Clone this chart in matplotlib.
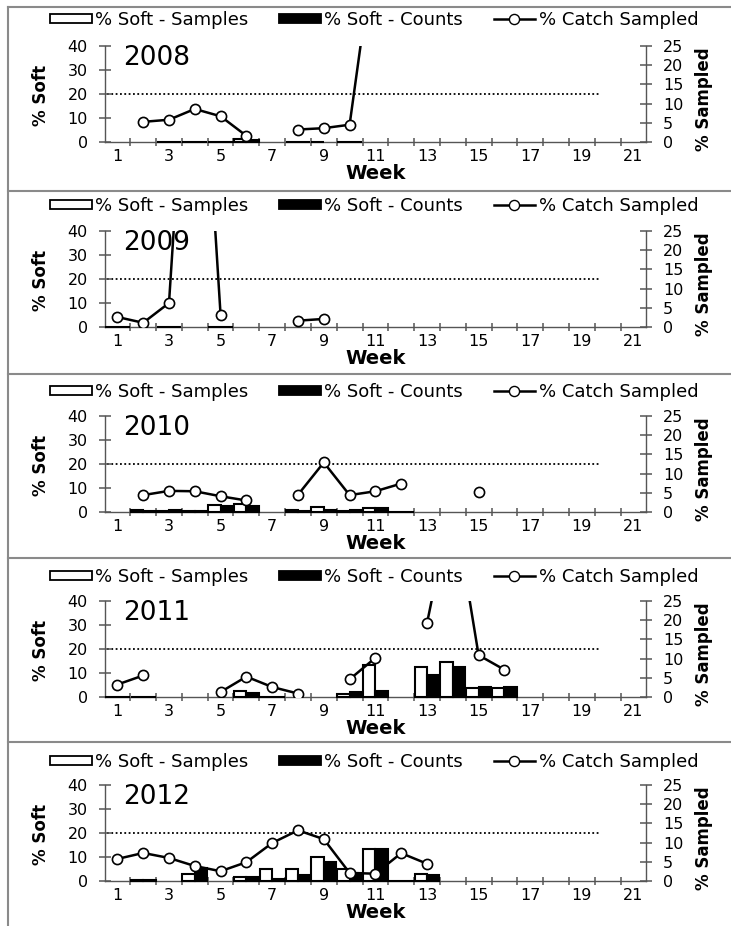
import numpy as np
import matplotlib
matplotlib.use('Agg')
import matplotlib.pyplot as plt
from matplotlib.patches import Patch
from matplotlib.lines import Line2D

plt.rcParams['font.family'] = ['DejaVu Sans']

n = np.nan
weeks = list(range(1, 22))
years = ['2008', '2009', '2010', '2011', '2012']
threshold = 20

#                1    2    3    4    5    6    7    8    9    10   11   12   13   14   15   16   17 18 19 20 21
samples_2008 = [n,   n,   0,   0,   0,   1.3, n,   0,   0,   0,   n,   n,   n,   n,   n,   n,   n, n, n, n, n]
counts_2008  = [n,   n,   0,   0,   0,   1.0, n,   0,   n,   0,   n,   n,   n,   n,   n,   n,   n, n, n, n, n]
catch_2008   = [n,   5.25,5.8, 8.6, 6.7, 1.6, n,   3.25,3.6, 4.5, 53,  n,   n,   n,   n,   n,   n, n, n, n, n]

samples_2009 = [0,   n,   0,   n,   0,   n,   n,   n,   n,   n,   n,   n,   n,   n,   n,   n,   n, n, n, n, n]
counts_2009  = [0,   n,   0,   n,   0,   n,   n,   n,   n,   n,   n,   n,   n,   n,   n,   n,   n, n, n, n, n]
catch_2009   = [2.6, 1.1, 6.25,110, 3.05,n,   n,   1.65,2.1, n,   n,   n,   n,   n,   n,   n,   n, n, n, n, n]

samples_2010 = [n,   0.8, 0.3, 0.3, 3.0, 3.4, n,   1.0, 2.0, 0.5, 1.8, 0,   n,   n,   n,   n,   n, n, n, n, n]
counts_2010  = [n,   0.3, 1.0, 0.3, 2.6, 2.7, n,   0.5, 1.0, 0.7, 1.8, 0,   n,   n,   n,   n,   n, n, n, n, n]
catch_2010   = [n,   4.4, 5.5, 5.4, 4.1, 3.0, n,   4.5, 12.9,4.4, 5.4, 7.4, n,   n,   5.1, n,   n, n, n, n, n]

samples_2011 = [0,   0,   n,   n,   n,   2.5, 0,   n,   n,   1.4, 13.4,n,   12.4,14.5,3.9, 3.9, n, n, n, n, n]
counts_2011  = [0,   0,   n,   n,   n,   1.5, 0,   n,   n,   1.9, 2.5, n,   9.1, 12.4,4.0, 4.0, n, n, n, n, n]
catch_2011   = [3.25,5.6, n,   n,   1.3, 5.3, 2.6, 0.9, n,   4.6, 10.2,n,   19.2,52,  10.9,7.1, n, n, n, n, n]

samples_2012 = [n,   0.3, n,   3.0, n,   1.5, 5.0, 5.0, 10.0,5.0, 13.5,0,   3.0, n,   n,   n,   n, n, n, n, n]
counts_2012  = [n,   0.6, n,   5.5, n,   1.8, 1.0, 2.5, 8.0, 3.2, 13.5,0,   2.5, n,   n,   n,   n, n, n, n, n]
catch_2012   = [5.75,7.3, 6.0, 3.9, 2.55,4.9, 9.9, 13.2,10.9,2.1, 1.9, 7.25,4.5, n,   n,   n,   n, n, n, n, n]

samples = [samples_2008, samples_2009, samples_2010, samples_2011, samples_2012]
counts = [counts_2008, counts_2009, counts_2010, counts_2011, counts_2012]
catch = [catch_2008, catch_2009, catch_2010, catch_2011, catch_2012]

legend_labels = ['% Soft - Samples', '% Soft - Counts', '% Catch Sampled']

W, H = 731, 926
fig = plt.figure(figsize=(W / 100, H / 100), dpi=100)

ax_left_px, ax_right_px = 104.5, 646.3
ax_tops = [46, 231, 416, 601, 785]
ax_h = 96
legend_y = [20, 206, 392, 577, 762]
separators = [190.5, 373.5, 557.5, 741.5]

# frame lines
gray = '#8a8a8a'
fig.add_artist(Line2D([8 / W, 1], [1 - 7 / H, 1 - 7 / H], transform=fig.transFigure, color=gray, lw=1.5))
fig.add_artist(Line2D([8 / W, 8 / W], [0, 1 - 7 / H], transform=fig.transFigure, color=gray, lw=1.5))
for s in separators:
    fig.add_artist(Line2D([8 / W, 1], [1 - s / H, 1 - s / H], transform=fig.transFigure, color=gray, lw=1.5))

axis_col = '#555555'
x = np.array(weeks, dtype=float)
bw = 0.48
for k, yr in enumerate(years):
    top = ax_tops[k]
    ax = fig.add_axes([ax_left_px / W, 1 - (top + ax_h) / H, (ax_right_px - ax_left_px) / W, ax_h / H])
    ax.set_facecolor('none')
    ax.bar(x, samples[k], width=-bw, align='edge', color='white', edgecolor='black', linewidth=1.5,
           zorder=3, clip_on=False)
    ax.bar(x, counts[k], width=bw, align='edge', color='black', edgecolor='black', linewidth=1.5,
           zorder=3, clip_on=False)
    ax.hlines(threshold, 0.58, 19.65, colors='black', linestyles=(0, (1, 1.4)), linewidth=1.3, zorder=1)
    ax.set_xlim(0.5, 21.5)
    ax.set_ylim(0, 40)
    ax.set_yticks([0, 10, 20, 30, 40])
    ax.set_xticks(weeks[::2])
    ax.set_xticks(np.arange(1.5, 21.0, 1.0), minor=True)
    ax.tick_params(axis='x', which='major', length=0, labelsize=11.5, pad=5)
    ax.tick_params(axis='x', which='minor', direction='inout', length=6, width=1.1, color=axis_col)
    ax.tick_params(axis='y', direction='inout', length=8, width=1.1, color=axis_col, labelsize=11.5, pad=8)
    for sp in ['top', 'right']:
        ax.spines[sp].set_visible(False)
    for sp in ['left', 'bottom']:
        ax.spines[sp].set_color(axis_col)
        ax.spines[sp].set_linewidth(1.0)
    ax.set_xlabel('Week', fontsize=14, fontweight='bold', labelpad=0)
    ax.text(-0.118, 0.49, '% Soft', rotation=90, transform=ax.transAxes, ha='center', va='center',
            fontsize=12, fontweight='bold')
    ax.text(0.035, 0.87, yr, transform=ax.transAxes, ha='left', va='center', fontsize=19, zorder=0)

    ax2 = ax.twinx()
    ax2.plot(x, catch[k], color='black', lw=1.8, marker='o', markersize=7.3, markerfacecolor='white',
             markeredgecolor='black', markeredgewidth=1.2, zorder=3)
    ax2.set_ylim(0, 25)
    ax2.set_yticks([0, 5, 10, 15, 20, 25])
    ax2.tick_params(axis='y', direction='inout', length=8, width=1.1, color=axis_col, labelsize=11.5, pad=8)
    for sp in ['top', 'left', 'bottom']:
        ax2.spines[sp].set_visible(False)
    ax2.spines['right'].set_color(axis_col)
    ax2.spines['right'].set_linewidth(1.0)
    ax2.text(1.107, 0.45, '% Sampled', rotation=90, transform=ax.transAxes, ha='center', va='center',
             fontsize=12, fontweight='bold')

    handles = [Patch(facecolor='white', edgecolor='black', linewidth=1.3),
               Patch(facecolor='black', edgecolor='black', linewidth=1.3),
               Line2D([], [], color='black', lw=1.8, marker='o', markersize=7.3,
                      markerfacecolor='white', markeredgecolor='black')]
    fig.legend(handles, legend_labels, loc='center left', bbox_to_anchor=(50 / W, 1 - legend_y[k] / H),
               ncol=3, frameon=False, fontsize=13, borderpad=0, borderaxespad=0,
               handlelength=2.3, handleheight=0.45, handletextpad=0.2, columnspacing=1.7)

fig.savefig('out.png', dpi=100)
